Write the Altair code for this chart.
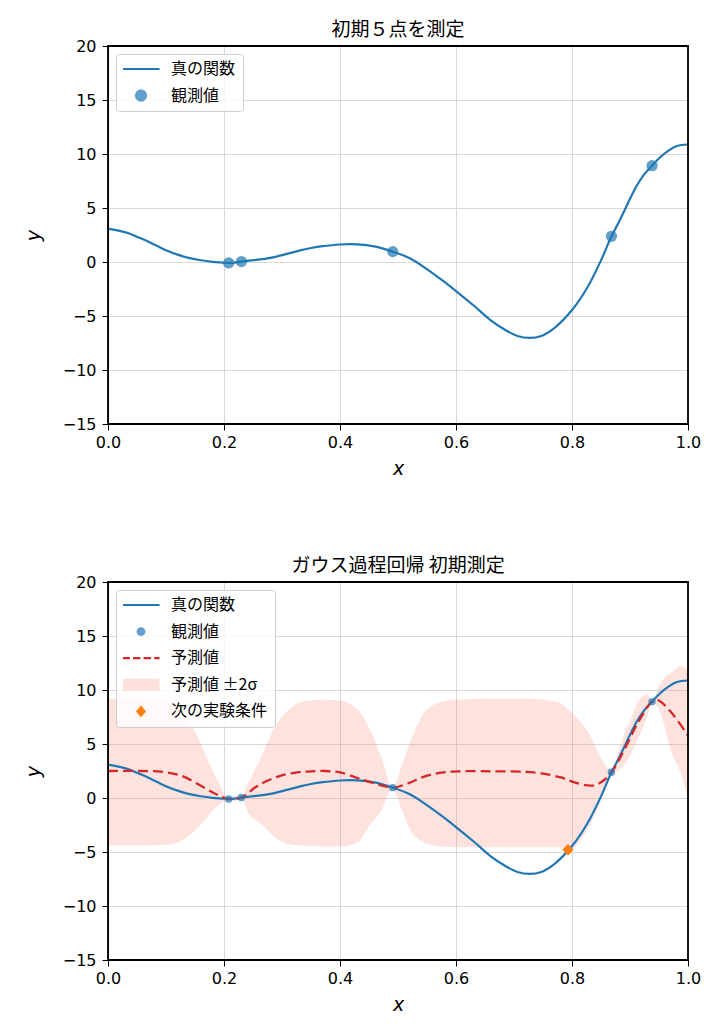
import altair as alt
import pandas as pd

FONT_JP = "Noto Sans CJK JP"
FONT_NUM = "DejaVu Sans"

S_TRUE = "真の関数"
S_OBS = "観測値"
S_PRED = "予測値"
S_BAND = "予測値 ±2σ"
S_NEXT = "次の実験条件"

C_BLUE = "#1f77b4"
C_BLUE_A = "#62a0cb"
C_RED = "#d62728"
C_BAND = "#fa8072"
C_BAND_A = "#fee1dd"
C_ORANGE = "#ff7f0e"
C_NONE = "transparent"

TITLE_TOP = "初期５点を測定"
TITLE_BOTTOM = "ガウス過程回帰 初期測定"

x_ticks = [0.0, 0.2, 0.4, 0.6, 0.8, 1.0]
y_ticks = [-15, -10, -5, 0, 5, 10, 15, 20]

# true function
true_x = [0.0, 0.016, 0.034, 0.051, 0.068, 0.085, 0.102, 0.12, 0.137, 0.16, 0.18, 0.20,
          0.208, 0.23, 0.24, 0.275, 0.31, 0.333, 0.35, 0.367, 0.40, 0.43, 0.459, 0.491,
          0.522, 0.551, 0.58, 0.60, 0.632, 0.66, 0.683, 0.706, 0.727, 0.747, 0.77, 0.80,
          0.827, 0.85, 0.868, 0.878, 0.889, 0.90, 0.912, 0.9235, 0.938, 0.952, 0.967,
          0.981, 1.0]
true_y = [3.09, 2.93, 2.69, 2.31, 1.92, 1.48, 1.05, 0.68, 0.4, 0.16, 0.02, -0.05,
          -0.09, 0.04, 0.1, 0.33, 0.77, 1.1, 1.3, 1.44, 1.62, 1.63, 1.45, 0.96,
          0.31, -0.71, -1.85, -2.69, -4.1, -5.4, -6.23, -6.85, -7.03, -6.85, -6.1, -4.45,
          -2.31, 0.15, 2.38, 3.4, 4.6, 5.85, 7.1, 8.05, 8.92, 9.7, 10.34,
          10.74, 10.88]

# observations
obs_x = [0.208, 0.23, 0.491, 0.868, 0.938]
obs_y = [-0.09, 0.04, 0.96, 2.38, 8.92]

# GP predicted mean
mean_x = [0.0, 0.05, 0.091, 0.126, 0.16, 0.186, 0.208, 0.23, 0.258, 0.293, 0.327, 0.35,
          0.373, 0.40, 0.43, 0.459, 0.491, 0.517, 0.545, 0.574, 0.603, 0.66, 0.72, 0.747,
          0.781, 0.804, 0.833, 0.85, 0.868, 0.89, 0.913, 0.938, 0.948, 0.971, 1.0]
mean_y = [2.5, 2.5, 2.44, 2.07, 1.14, 0.37, -0.09, 0.04, 1.14, 1.98, 2.38, 2.46,
          2.5, 2.37, 1.85, 1.36, 0.96, 1.36, 1.98, 2.34, 2.47, 2.47, 2.42, 2.28,
          1.9, 1.45, 1.14, 1.45, 2.38, 4.45, 6.9, 8.92, 9.07, 7.93, 5.77]

# GP +-2 sigma band
band_x = [0.0, 0.05, 0.10, 0.12, 0.132, 0.143, 0.155, 0.166, 0.175, 0.189, 0.208, 0.219,
          0.23, 0.241, 0.264, 0.287, 0.31, 0.333, 0.35, 0.373, 0.40, 0.43, 0.453, 0.471,
          0.491, 0.505, 0.522, 0.545, 0.574, 0.603, 0.66, 0.72, 0.775, 0.80, 0.816, 0.833,
          0.85, 0.868, 0.879, 0.89, 0.902, 0.913, 0.93, 0.938, 0.953, 0.971, 0.988, 1.0]
band_hi = [9.2, 9.2, 9.1, 8.6, 7.8, 6.8, 5.6, 4.3, 3.2, 1.6, 0.0, 0.25,
           0.1, 1.3, 3.8, 6.5, 8.1, 8.9, 9.05, 9.1, 9.0, 8.2, 6.2, 3.8,
           1.0, 2.8, 5.3, 7.9, 8.9, 9.1, 9.2, 9.2, 8.9, 7.9, 7.0, 5.6,
           3.7, 2.55, 4.0, 5.9, 7.4, 8.8, 9.6, 9.0, 10.7, 11.6, 12.2, 11.9]
band_lo = [-4.4, -4.4, -4.3, -4.15, -3.8, -3.35, -2.7, -2.1, -1.5, -0.7, -0.2, -0.3,
           -0.05, -1.3, -2.4, -3.6, -4.25, -4.4, -4.45, -4.5, -4.5, -4.1, -2.4, -1.2,
           0.85, -0.9, -3.0, -4.1, -4.5, -4.55, -4.55, -4.55, -4.57, -4.7, -3.8, -2.25,
           -0.2, 2.25, 2.5, 3.1, 4.1, 5.4, 7.6, 8.85, 7.8, 4.3, 2.2, 0.06]

# next experiment condition
next_x = [0.793]
next_y = [-4.79]

df_true = pd.DataFrame({"x": true_x, "y": true_y})
df_obs = pd.DataFrame({"x": obs_x, "y": obs_y})
df_mean = pd.DataFrame({"x": mean_x, "y": mean_y})
df_band = pd.DataFrame({"x": band_x, "lo": band_lo, "hi": band_hi})
df_next = pd.DataFrame({"x": next_x, "y": next_y})
df_frame = pd.DataFrame({"x": [x_ticks[0]], "x2": [x_ticks[-1]],
                         "y": [y_ticks[0]], "y2": [y_ticks[-1]]})

# legend symbol paths (normalised [-1, 1] space)
LINE = "M-1,0L1,0"
DASH = "M-1,0L-0.6,0M-0.43,0L-0.03,0M0.14,0L0.54,0M0.71,0L1,0"
RECT = "M-1,-0.33L1,-0.33L1,0.33L-1,0.33Z"
DIAM = "M0,-0.32L0.27,0L0,0.32L-0.27,0Z"


def circ(r):
    return f"M{r},0A{r},{r},0,1,1,-{r},0A{r},{r},0,1,1,{r},0Z"


def make_legend():
    return alt.Legend(
        title=None, orient="top-left", offset=8, padding=7,
        fillColor="rgba(255,255,255,0.8)", strokeColor="#cccccc", cornerRadius=3,
        symbolSize=1369, symbolStrokeWidth=2.2, symbolOpacity=1,
        symbolFillColor="transparent", clipHeight=16, rowPadding=10.6,
        labelFont=FONT_JP, labelFontSize=16, labelColor="black", labelOffset=10,
        symbolOffset=-2,
    )


x_axis = alt.Axis(values=x_ticks, format=".1f", title="x", titleFont=FONT_NUM,
                  titleFontStyle="italic", titleFontSize=19, titleFontWeight="normal",
                  titleColor="black", titlePadding=9, labelFont=FONT_NUM, labelFontSize=16,
                  labelPadding=4, labelColor="black", labelFlush=False, tickSize=6,
                  tickColor="black", domainColor="black", gridColor="#d8d8d8")
y_axis = alt.Axis(values=y_ticks, labelExpr="replace(format(datum.value,'d'),'-','−')",
                  title="y", titleFont=FONT_NUM, titleFontStyle="italic", titleFontSize=19,
                  titleFontWeight="normal", titleColor="black", titlePadding=19,
                  labelFont=FONT_NUM, labelFontSize=16, labelPadding=6, labelColor="black",
                  labelFlush=False, tickSize=6, tickColor="black", domainColor="black",
                  gridColor="#d8d8d8")

x_scale = alt.Scale(domain=[0, 1], nice=False, zero=False)
y_scale = alt.Scale(domain=[-15, 20], nice=False, zero=False)


def panel(entries, pt_size, with_gp):
    names = [e[0] for e in entries]
    shapes = [e[1] for e in entries]
    fills = [e[2] for e in entries]
    strokes = [e[3] for e in entries]
    df_leg = pd.DataFrame({"series": names, "x": obs_x[0], "y": obs_y[0]})
    X = alt.X("x:Q", scale=x_scale, axis=x_axis)
    Y = alt.Y("y:Q", scale=y_scale, axis=y_axis)
    layers = []
    if with_gp:
        layers.append(alt.Chart(df_band).mark_area(interpolate="monotone", color=C_BAND,
                                                   fillOpacity=0.23).encode(
            x=X, y=alt.Y("lo:Q", scale=y_scale, axis=y_axis), y2=alt.Y2("hi:Q")))
    layers.append(alt.Chart(df_true).mark_line(interpolate="catmull-rom", strokeWidth=2.2,
                                               color=C_BLUE).encode(x=X, y=Y))
    if with_gp:
        layers.append(alt.Chart(df_mean).mark_line(interpolate="catmull-rom", strokeWidth=2.3,
                                                   color=C_RED, strokeDash=[10, 5]).encode(x=X, y=Y))
    layers.append(alt.Chart(df_obs).mark_circle(size=pt_size, opacity=0.7,
                                                color=C_BLUE).encode(x=X, y=Y))
    if with_gp:
        layers.append(alt.Chart(df_next).mark_point(filled=True, size=130, opacity=1,
                                                    shape="diamond", color=C_ORANGE).encode(x=X, y=Y))
    # plot frame along the axis limits
    layers.append(alt.Chart(df_frame).mark_rect(fillOpacity=0, stroke="black", strokeWidth=1.8).encode(
        x=X, x2=alt.X2("x2:Q"), y=Y, y2=alt.Y2("y2:Q")))
    leg = make_legend()
    layers.append(alt.Chart(df_leg).mark_point(opacity=0, filled=True).encode(
        x=X, y=Y,
        shape=alt.Shape("series:N", scale=alt.Scale(domain=names, range=shapes), legend=leg),
        fill=alt.Fill("series:N", scale=alt.Scale(domain=names, range=fills), legend=leg),
        stroke=alt.Stroke("series:N", scale=alt.Scale(domain=names, range=strokes), legend=leg),
    ))
    return alt.layer(*layers)


top = panel([
    (S_TRUE, LINE, C_NONE, C_BLUE),
    (S_OBS, circ(0.33), C_BLUE_A, C_NONE),
], 127, False).properties(title=alt.Title(TITLE_TOP, anchor="middle"), width=580, height=378)

bottom = panel([
    (S_TRUE, LINE, C_NONE, C_BLUE),
    (S_OBS, circ(0.24), C_BLUE_A, C_NONE),
    (S_PRED, DASH, C_NONE, C_RED),
    (S_BAND, RECT, C_BAND_A, C_NONE),
    (S_NEXT, DIAM, C_ORANGE, C_NONE),
], 55, True).properties(title=alt.Title(TITLE_BOTTOM, anchor="middle"), width=580, height=378)

chart = alt.vconcat(top, bottom, spacing=77).resolve_scale(
    shape="independent", fill="independent", stroke="independent"
).resolve_legend(
    shape="independent", fill="independent", stroke="independent"
).properties(
    padding={"left": 15, "top": 12, "right": 5, "bottom": 5}
).configure_view(stroke="black", strokeWidth=1).configure_title(
    font=FONT_JP, fontSize=19, fontWeight="normal", color="black", offset=-2)

chart.save("out.html", embed_options={"renderer": "svg", "actions": False})
